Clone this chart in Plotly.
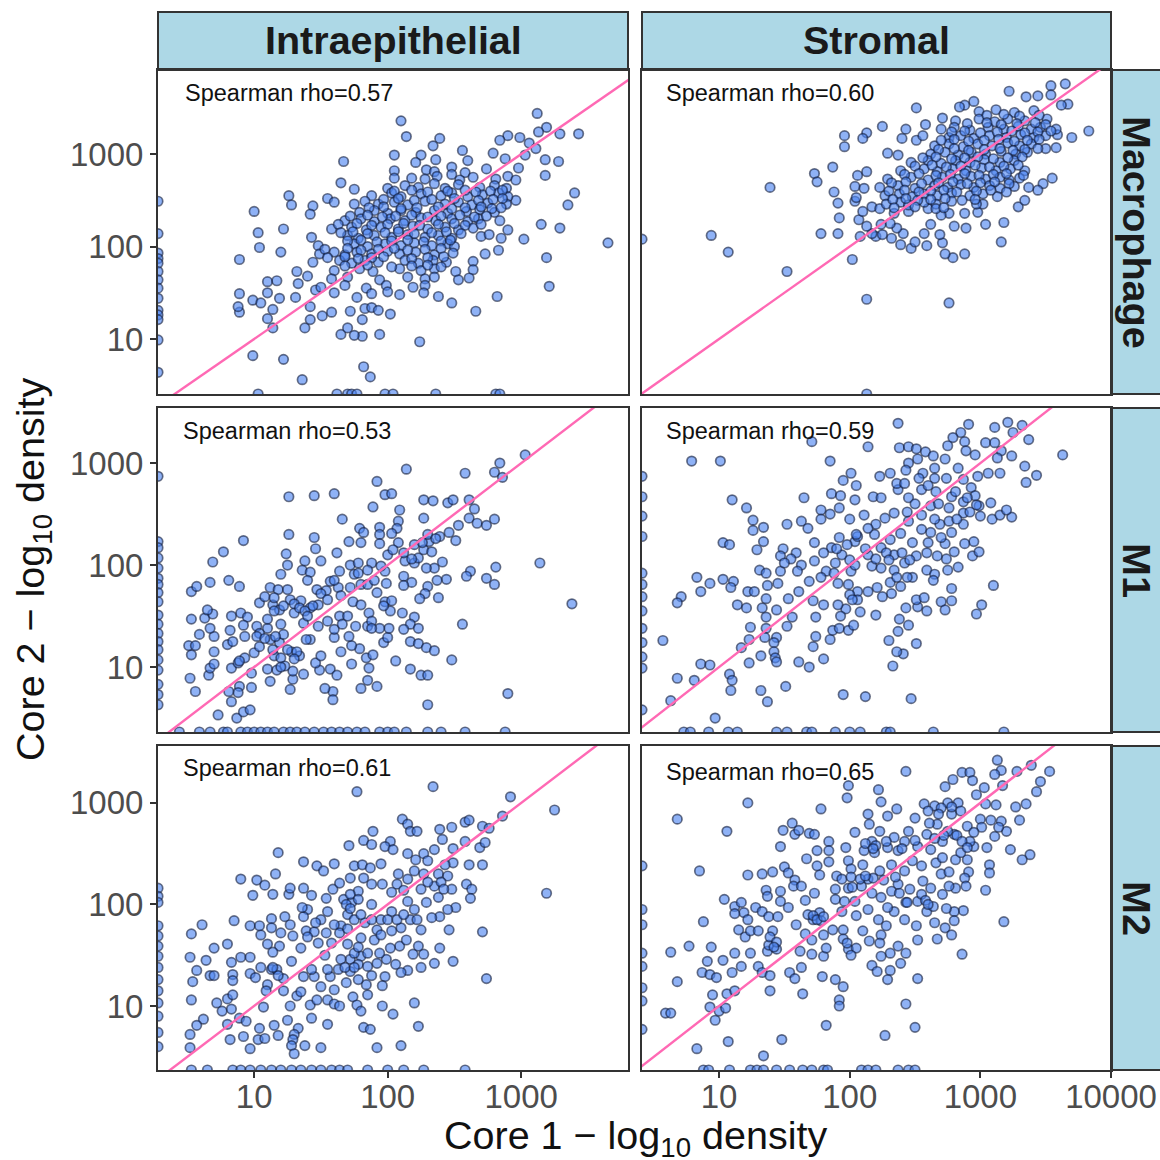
import plotly.graph_objects as go

# Every pair is (log10 Core 1 density, log10 Core 2 density).
ie_macrophage = [(3.12,3.44),(2.10,3.36),(2.14,3.19),(2.39,3.17),(2.34,3.09),(3.19,3.29),(3.29,3.22),(3.43,3.22),(2.90,3.20),(2.99,3.18),(2.84,3.15),(3.13,3.24),(3.06,3.12),(3.11,3.06),(2.79,3.01),(2.56,3.04),(2.05,2.99),(1.67,2.92),(2.25,2.99),(2.21,2.91),(2.36,2.94),(2.60,2.93),(2.88,2.95),(3.03,2.99),(3.18,2.94),(3.28,2.92),(3.18,2.77),(2.98,2.85),(2.05,2.82),(2.05,2.74),(1.65,2.69),(1.75,2.62),(1.26,2.55),(1.28,2.45),(1.55,2.52),(1.60,2.48),(1.44,2.44),(1.42,2.35),(1.00,2.38),(1.22,2.19),(1.03,2.15),(1.04,1.99),(1.20,1.94),(0.89,1.86),(3.40,2.58),(3.35,2.45),(2.96,2.50),(3.15,2.24),(3.29,2.20),(3.65,2.04),(3.02,2.08),(3.19,1.88),(3.21,1.57),(2.82,1.46),(2.83,1.96),(2.85,2.09),(2.66,1.30),(2.48,1.39),(2.38,1.46),(2.24,0.97),(1.94,1.05),(1.81,1.03),(1.75,1.04),(1.65,1.05),(1.70,1.12),(1.38,1.12),(1.14,1.12),(0.99,0.82),(1.22,0.78),(1.36,0.56),(1.82,0.70),(1.87,0.59),
(0.89,1.49),(0.89,1.29),(0.88,1.35),(0.99,1.42),(1.05,1.39),(1.14,1.32),(1.10,1.22),(1.10,1.50),(1.10,1.62),(1.17,1.63),(1.19,1.44),(1.31,1.45),(1.33,1.60),(1.32,1.73),(1.40,1.68),(1.46,1.53),(1.42,1.35),(1.42,1.21),(1.51,1.25),(1.58,1.29),(1.60,1.50),(1.72,1.30),(1.81,1.21),(1.83,1.33),(1.88,1.34),(1.93,1.31),(2.02,1.27),(1.77,1.45),
(2.29,2.83),(2.35,2.81),(2.48,2.86),(2.58,2.80),(2.74,2.84),(2.18,2.74),(2.28,2.73),(2.37,2.76),(2.48,2.78),(2.54,2.72),(2.64,2.75),(2.81,2.73),(2.90,2.76),(2.96,2.72),(2.00,2.63),(2.13,2.66),(2.23,2.64),(2.35,2.68),(2.43,2.63),(2.53,2.67),(2.69,2.64),(2.80,2.66),(2.89,2.63),(1.88,2.55),(2.03,2.58),(2.10,2.54),(2.25,2.57),(2.40,2.55),(2.48,2.58),(2.60,2.54),(2.71,2.56),(2.83,2.58),(2.90,2.54),(1.75,2.46),(1.83,2.49),(1.93,2.46),(2.05,2.48),(2.15,2.45),(2.28,2.49),(2.43,2.46),(2.53,2.48),(2.63,2.45),(2.75,2.47),(2.89,2.46),(1.79,2.37),(1.90,2.39),(2.00,2.36),(2.10,2.39),(2.21,2.37),(2.35,2.39),(2.45,2.36),(2.59,2.38),(2.69,2.40),(2.80,2.37),(1.68,2.28),(1.80,2.30),(1.90,2.27),(2.02,2.30),(2.13,2.28),(2.25,2.31),(2.36,2.28),(2.48,2.30),(2.60,2.27),(2.68,2.30),(2.84,2.28),(1.58,2.19),(1.73,2.21),(1.84,2.18),(1.95,2.21),(2.08,2.19),(2.19,2.22),(2.30,2.19),(2.43,2.21),(2.53,2.18),(2.64,2.20),(2.90,2.18),(1.43,2.10),(1.70,2.12),(1.78,2.09),(1.90,2.12),(2.03,2.10),(2.15,2.13),(2.28,2.10),(2.38,2.12),(2.48,2.09),(2.70,2.11),(2.76,2.13),(1.48,2.01),(1.75,2.03),(1.85,2.00),(1.98,2.03),(2.10,2.01),(2.20,2.04),(2.33,2.01),(2.45,2.03),(2.50,2.00),(1.49,1.92),(1.60,1.94),(1.68,1.91),(1.77,1.94),(1.88,1.92),(2.00,1.95),(2.09,1.92),(2.21,1.94),(2.35,1.91),(2.49,1.93),(2.73,1.92),(1.44,1.83),(1.64,1.85),(1.73,1.82),(1.83,1.85),(1.93,1.83),(2.13,1.85),(2.23,1.82),(2.34,1.85),(2.44,1.83),(2.64,1.84),(1.60,1.74),(1.79,1.76),(1.89,1.73),(2.09,1.76),(2.25,1.74),(2.35,1.76),(2.51,1.73),(2.64,1.75),(1.58,1.65),(1.70,1.67),(1.94,1.64),(2.15,1.67),(2.28,1.65),(2.35,1.67),(2.53,1.64),(2.61,1.66),(1.50,1.56),(1.68,1.58),(1.84,1.55),(1.99,1.58),(2.19,1.56),(2.28,1.58),(1.88,1.49),(2.00,1.51),(2.09,1.48),(2.27,1.50),
(2.05,2.60),(2.18,2.61),(2.30,2.59),(2.45,2.60),(2.58,2.61),(2.66,2.59),(2.77,2.60),(2.86,2.61),(1.97,2.51),(2.08,2.52),(2.20,2.50),(2.33,2.51),(2.50,2.52),(2.68,2.50),(2.79,2.51),(2.86,2.52),(1.86,2.42),(1.97,2.43),(2.10,2.41),(2.22,2.42),(2.38,2.43),(2.48,2.41),(2.58,2.42),(2.70,2.43),(2.78,2.41),(2.85,2.42),(1.72,2.33),(1.85,2.34),(1.96,2.32),(2.06,2.33),(2.18,2.34),(2.30,2.32),(2.40,2.33),(2.54,2.34),(2.65,2.32),(2.74,2.33),(1.63,2.24),(1.77,2.25),(1.88,2.23),(2.00,2.24),(2.12,2.25),(2.24,2.23),(2.38,2.24),(2.50,2.25),(2.58,2.23),(2.70,2.24),(1.65,2.15),(1.74,2.16),(1.85,2.14),(1.98,2.15),(2.08,2.16),(2.20,2.14),(2.33,2.15),(2.44,2.16),(2.55,2.14),(1.70,2.06),(1.80,2.07),(1.92,2.05),(2.03,2.06),(2.15,2.07),(2.27,2.05),(2.40,2.06),(2.47,2.07),(1.53,1.97),(1.70,1.98),(1.80,1.96),(1.93,1.97),(2.05,1.98),(2.15,1.96),(2.28,1.97),(2.40,1.98),(1.55,1.88),(1.68,1.89),(1.78,1.87),(1.88,1.88),(1.97,1.89),(2.18,1.87),(2.30,1.88),(2.42,1.89),(1.68,1.79),(1.85,1.80),(2.03,1.78),(2.18,1.79),(2.30,1.80),(2.40,1.78)]
ie_macrophage_left_y = [2.49,2.14,1.93,1.87,1.82,1.73,1.64,1.55,1.44,1.31,1.26,1.21,0.99,0.64]
ie_macrophage_bottom_x = [1.03,1.62,1.70,1.73,1.77,1.98,2.04,2.36,2.81,2.84]

st_macrophage = [(3.83,3.25),(3.70,3.18),(3.65,3.76),(3.54,3.74),(3.22,3.68),(3.35,3.62),(3.44,3.63),(3.67,3.54),(3.62,3.53),(3.54,3.64),(2.95,3.57),(2.88,3.53),(2.84,3.51),(2.51,3.50),(2.71,3.39),(2.25,3.30),(2.43,3.27),(2.58,3.32),(2.13,3.23),(2.10,3.17),(1.96,3.20),(1.96,3.08),(2.40,3.17),(2.51,3.15),(2.56,3.20),(2.29,3.01),(2.37,2.99),(1.87,2.86),(1.73,2.79),(1.75,2.70),(1.39,2.64),(2.06,2.77),(2.13,2.81),(2.04,2.65),(2.11,2.63),(1.88,2.59),(1.91,2.47),(2.04,2.49),(2.05,2.53),(1.92,2.31),(2.07,2.29),(2.10,2.38),(2.17,2.43),(1.78,2.14),(1.91,2.14),(2.08,2.11),(0.94,2.12),(1.07,1.94),(1.52,1.73),(2.02,1.86),(2.13,1.43),(2.76,1.39),(3.16,2.05),(3.18,2.26),(3.04,2.24),(2.88,1.92),(2.79,1.88),(2.73,1.92),(2.59,2.01),(2.47,1.98),(2.39,2.02),(2.50,2.05),(2.71,2.04),(2.32,2.09),(2.20,2.11),(2.17,2.14),(2.25,2.13),(2.41,2.14),(2.57,2.14),(2.69,2.13),(2.89,2.20),(2.80,2.22),(2.62,2.24),(2.36,2.20),(2.31,2.25),(2.24,2.24),(2.13,2.22),(3.29,2.43),(3.34,2.50),(2.98,2.37),(3.02,2.46),(2.88,2.36),(2.76,2.36),(2.70,2.34),(2.60,2.41),(2.45,2.38),(2.34,2.36),(2.23,2.41),(3.55,2.74),(3.48,2.68),(3.44,2.61),(3.58,3.07),(3.50,3.06),(3.59,3.21),
(2.99,3.46),(3.12,3.48),(3.26,3.45),(3.41,3.47),(2.81,3.36),(2.99,3.38),(3.11,3.35),(3.21,3.38),(3.34,3.36),(3.51,3.38),(2.70,3.27),(2.80,3.29),(2.92,3.26),(3.06,3.29),(3.18,3.27),(3.29,3.30),(3.39,3.27),(3.46,3.29),(3.58,3.27),(2.76,3.18),(2.85,3.20),(2.95,3.17),(3.07,3.20),(3.20,3.18),(3.31,3.21),(3.41,3.18),(3.50,3.20),(2.65,3.09),(2.76,3.11),(2.87,3.08),(2.98,3.11),(3.09,3.09),(3.21,3.12),(3.30,3.09),(3.39,3.11),(2.62,3.00),(2.73,3.02),(2.83,2.99),(2.93,3.02),(3.04,3.00),(3.16,3.03),(3.27,3.00),(3.36,3.02),(2.47,2.91),(2.60,2.93),(2.70,2.90),(2.81,2.93),(2.92,2.91),(3.03,2.94),(3.15,2.91),(3.26,2.93),(2.39,2.82),(2.57,2.84),(2.67,2.81),(2.79,2.84),(2.89,2.82),(3.01,2.85),(3.12,2.82),(3.23,2.84),(3.34,2.82),(2.29,2.73),(2.47,2.75),(2.60,2.72),(2.71,2.75),(2.83,2.73),(2.93,2.76),(3.04,2.73),(3.15,2.75),(3.22,2.72),(3.30,2.74),(2.23,2.64),(2.37,2.66),(2.50,2.63),(2.65,2.66),(2.75,2.64),(2.85,2.67),(2.95,2.64),(3.07,2.66),(3.15,2.63),(3.26,2.65),(3.37,2.64),(2.27,2.55),(2.38,2.57),(2.48,2.54),(2.57,2.57),(2.67,2.55),(2.78,2.58),(2.92,2.55),(3.02,2.57),(3.13,2.54),(2.28,2.46),(2.39,2.48),(2.45,2.45),(2.57,2.48),(2.66,2.46),(2.78,2.49),(2.97,2.46),
(3.05,3.42),(3.18,3.43),(3.30,3.41),(3.45,3.42),(2.90,3.33),(3.05,3.34),(3.16,3.32),(3.28,3.33),(3.42,3.34),(3.50,3.32),(2.78,3.24),(2.88,3.25),(3.00,3.23),(3.13,3.24),(3.24,3.25),(3.34,3.23),(3.44,3.24),(3.54,3.25),(2.70,3.15),(2.80,3.16),(2.91,3.14),(3.03,3.15),(3.14,3.16),(3.26,3.14),(3.36,3.15),(3.45,3.16),(2.68,3.05),(2.80,3.06),(2.91,3.04),(3.03,3.05),(3.15,3.06),(3.25,3.04),(3.34,3.05),(3.44,3.06),(2.56,2.96),(2.66,2.97),(2.78,2.95),(2.88,2.96),(2.98,2.97),(3.10,2.95),(3.21,2.96),(3.32,2.97),(2.50,2.87),(2.63,2.88),(2.74,2.86),(2.85,2.87),(2.96,2.88),(3.07,2.86),(3.18,2.87),(3.29,2.88),(2.42,2.78),(2.53,2.79),(2.66,2.77),(2.77,2.78),(2.88,2.79),(2.99,2.77),(3.10,2.78),(3.20,2.79),(3.33,2.77),(2.32,2.69),(2.43,2.70),(2.55,2.68),(2.68,2.69),(2.79,2.70),(2.90,2.68),(3.00,2.69),(3.11,2.70),(3.22,2.68),(2.30,2.60),(2.42,2.61),(2.53,2.59),(2.62,2.60),(2.72,2.61),(2.82,2.59),(2.97,2.60),(3.08,2.61),(3.20,2.59),(2.33,2.51),(2.43,2.52),(2.52,2.50),(2.62,2.51),(2.73,2.52),(2.86,2.50),(2.96,2.51),(2.34,2.42),(2.50,2.43),(2.66,2.41),(2.72,2.42)]
st_macrophage_left_y = [2.08]
st_macrophage_bottom_x = [2.13]

ie_m1 = [(3.03,3.08),(2.84,3.00),(2.80,2.91),(2.86,2.86),(2.14,2.94),(2.58,2.90),(1.92,2.82),(1.98,2.69),(2.03,2.70),(1.60,2.70),(1.45,2.68),(1.26,2.67),(1.89,2.57),(2.09,2.54),(2.27,2.64),(2.34,2.63),(2.45,2.61),(2.49,2.64),(2.61,2.64),(2.65,2.55),(2.61,2.46),(2.67,2.41),(2.74,2.39),(2.80,2.45),(2.53,2.39),(2.46,2.32),(2.51,2.24),(2.27,2.46),(1.66,2.45),(2.08,2.43),(2.07,2.36),(1.94,2.37),(1.79,2.36),(1.82,2.32),(1.26,2.30),(1.45,2.27),(0.92,2.24),(0.77,2.13),(0.69,2.03),(1.24,2.11),(1.46,2.16),(1.62,2.12),(1.71,2.23),(1.80,2.22),(1.94,2.30),(2.03,2.31),(2.08,2.22),(1.94,2.21),(3.14,2.02),(2.81,1.98),(2.74,1.87),(2.80,1.81),(2.62,1.94),(2.59,1.89),(2.44,1.86),(2.37,1.85),(2.41,2.03),(2.35,1.97),(2.29,1.97),(2.18,1.83),(2.12,1.89),(2.12,1.80),(2.30,1.79),(2.28,1.72),(2.24,1.67),(2.38,1.68),(3.38,1.62),(2.56,1.42),(2.48,1.07),(2.11,1.53),(2.20,1.49),(2.17,1.42),(2.23,1.38),(2.12,1.37),(2.17,1.25),(2.23,1.23),(2.29,1.19),(2.35,1.16),(2.06,1.06),(2.17,0.98),(2.25,0.92),(2.30,0.92),(2.30,0.63),(2.90,0.74),(1.92,0.81),(1.80,0.79),(1.85,0.87),(1.59,0.76),(1.59,0.68),(1.53,0.79),(1.27,0.78),(1.29,0.88),(1.29,0.96),(1.37,0.93),(1.49,0.97),(1.57,0.98),(1.62,0.92),(1.73,1.03),(1.46,1.04),(1.50,1.11),(1.65,1.15),(1.79,1.18),(1.73,1.21),(1.84,1.09),(1.89,1.12),(1.86,0.99),(1.97,1.24),(2.00,1.29),(2.01,1.38),(1.94,1.38),(1.85,1.40),(1.76,1.40),(1.71,1.30),(1.60,1.29),(1.60,1.37),(1.42,1.27),(1.34,1.11),(1.28,1.15),(1.15,1.11),(1.20,1.09),(1.12,0.86),(0.98,0.80),(1.10,0.98),(1.17,0.97),(1.23,1.01),(0.98,0.94),(0.89,0.81),(0.88,0.75),(0.81,0.76),(0.83,0.66),(0.73,0.53),(0.87,0.50),(0.92,0.56),(0.97,0.58),(0.56,0.76),(0.52,0.89),(0.66,0.92),(0.67,0.99),(0.70,1.03),(0.83,0.99),(0.88,1.04),(0.93,1.09),(1.00,1.14),(1.04,1.20),(0.70,1.15),(0.53,1.12),(0.51,1.21),(0.56,1.21),(0.59,1.32),(0.70,1.30),(0.67,1.38),(0.53,1.47),(0.63,1.48),(0.69,1.52),(0.65,1.56),(0.83,1.50),(0.90,1.53),(0.95,1.49),(0.92,1.41),(0.82,1.36),(0.80,1.22),(0.84,1.25),(0.93,1.30),(1.02,1.40),(1.10,1.38),(1.04,1.33),(1.12,1.27),(1.19,1.24),(1.22,1.32),(1.10,1.47),(1.20,1.42),(1.37,1.43),(0.53,1.74),(0.57,1.79),(0.67,1.83),(0.81,1.85),(0.89,1.79),(1.04,1.63),(1.08,1.69),(1.12,1.78),(1.18,1.76),(1.25,1.76),(1.20,1.91),(1.25,2.00),(1.38,2.04),(1.36,1.95),(1.42,1.93),(1.40,1.85),(1.50,2.04),(1.64,1.94),(1.57,1.84),(1.47,1.76),(1.54,1.75),(1.63,1.78),(1.72,2.00),(1.78,2.02),(1.75,1.91),(1.80,1.81),(1.88,2.02),(1.98,1.94),(1.99,1.82),(1.85,1.81),(2.00,2.10),(2.13,2.04),(2.20,2.02),(2.23,2.07),(2.27,2.15),(2.33,2.13),(2.31,2.23),(2.30,2.30),(2.39,2.28),(2.20,2.20),(1.14,1.61),(1.19,1.56),(1.27,1.66),(1.30,1.53),(1.35,1.65),(1.42,1.58),(1.48,1.61),(1.55,1.45),(1.64,1.50),(1.70,1.50),(1.74,1.64),(1.80,1.61),(1.86,1.53),(1.92,1.73),(1.98,1.64),(2.02,1.55),(1.39,1.27),
(1.15,1.68),(1.22,1.60),(1.30,1.62),(1.34,1.58),(1.38,1.55),(1.44,1.60),(1.40,1.50),(1.15,1.55),(1.50,1.72),(1.55,1.66),(1.60,1.85),(1.65,1.70),(1.72,1.78),(1.78,1.92),(1.85,1.95),(1.95,1.99),(1.90,1.85),(2.03,1.65),(1.97,1.60),(2.04,2.15),(2.12,2.12),(2.18,2.06),(2.26,2.22),(2.36,2.26),(1.02,1.30),(1.08,1.28),(1.16,1.30),(1.14,1.17),(1.25,1.17),(1.32,1.15),(1.20,1.00),(1.30,1.08),(0.89,1.06),(1.48,1.40),(1.66,1.42),(1.88,1.45),(1.88,1.38)]
ie_m1_left_y = [2.87,2.23,2.17,2.07,1.97,1.87,1.81,1.73,1.64,1.51,1.42,1.33,1.25,1.17,1.07,0.97,0.83,0.73,0.63]
ie_m1_bottom_x = [0.44,0.59,0.67,0.77,0.80,0.90,0.95,1.00,1.05,1.10,1.15,1.22,1.27,1.32,1.38,1.45,1.52,1.58,1.64,1.70,1.77,1.83,1.94,2.00,2.05,2.14,2.30,2.40,2.58,2.88]

st_m1 = [(2.37,3.39),(2.91,3.38),(3.11,3.35),(3.21,3.40),(3.32,3.37),(3.25,3.30),(3.37,3.23),(3.63,3.08),(1.71,3.21),(2.14,3.16),(0.79,3.02),(1.01,3.02),(1.85,3.02),(2.85,3.30),(2.79,3.25),(2.88,3.21),(2.75,3.17),(3.04,3.20),(3.11,3.20),(3.16,3.12),(3.24,3.07),(3.13,3.05),(3.34,2.97),(3.43,2.88),(3.35,2.81),(3.15,2.90),(3.06,2.90),(2.98,2.87),(2.89,3.12),(2.96,3.08),(2.38,3.15),(2.45,3.16),(2.51,3.14),(2.58,3.11),(2.64,3.07),(2.52,3.04),(2.45,3.00),(2.73,3.04),(2.65,2.95),(2.56,2.90),(2.43,2.93),(2.31,2.90),(2.23,2.87),(2.01,2.90),(1.95,2.83),(2.05,2.78),(1.86,2.70),(1.93,2.68),(1.65,2.66),(1.10,2.64),(1.21,2.56),(1.26,2.44),(1.34,2.37),(1.26,2.34),(1.52,2.40),(1.63,2.43),(1.68,2.36),(1.78,2.54),(1.78,2.45),(1.85,2.50),(1.03,2.22),(1.08,2.20),(1.34,2.23),(1.29,2.15),(1.49,2.16),(1.59,2.12),(1.47,2.09),(0.83,1.88),(0.93,1.82),(0.86,1.74),(1.03,1.86),(1.11,1.84),(1.09,1.78),(0.71,1.69),(0.68,1.63),(0.57,1.26),(1.14,1.61),(1.21,1.58),(1.22,1.74),(1.27,1.74),(1.31,1.95),(1.36,1.92),(1.47,1.94),(1.45,1.82),(1.37,1.80),(1.36,1.67),(1.33,1.58),(1.44,1.56),(1.36,1.49),(1.53,1.67),(1.61,1.74),(1.56,1.49),(1.52,1.40),(1.74,1.49),(1.80,1.61),(1.72,1.65),(1.24,1.39),(1.36,1.38),(1.23,1.27),(1.35,1.29),(1.44,1.29),(1.17,1.19),(1.42,1.24),(1.42,1.15),(1.43,1.09),(1.44,1.05),(1.32,1.11),(1.23,1.04),(0.86,1.03),(0.93,1.02),(0.68,0.89),(0.81,0.87),(1.08,0.93),(1.10,0.87),(1.09,0.77),(0.63,0.67),(1.32,0.77),(1.37,0.66),(1.51,0.81),(0.97,0.50),(1.61,1.05),(1.69,1.00),(1.80,1.08),(1.72,1.20),(1.74,1.30),(1.85,1.27),(1.87,1.36),(1.92,1.38),(1.99,1.36),(2.03,1.41),(1.95,0.73),(2.12,0.71),(2.47,0.69),(2.33,1.01),(2.41,1.13),(2.36,1.15),(2.51,1.23),(2.30,1.26),(2.37,1.35),(2.45,1.41),(2.38,1.47),(2.20,1.51),(2.08,1.54),(1.97,1.57),(1.93,1.50),(1.91,1.61),(2.43,1.58),(2.52,1.59),(2.59,1.55),(2.51,1.66),(2.57,1.68),(2.70,1.64),(2.78,1.65),(2.73,1.56),(2.78,1.77),(2.97,1.52),(3.01,1.61),(3.10,1.80),(2.83,1.98),(2.75,1.95),(2.59,1.95),(2.65,1.91),(2.64,1.85),(2.48,1.88),(2.31,1.83),(2.39,1.79),(2.32,1.72),(2.25,1.69),(2.21,1.78),(2.14,1.74),(2.06,1.74),(2.00,1.71),(1.99,1.81),(1.91,1.82),(1.69,1.84),(1.82,1.94),(2.01,1.94),(2.17,1.99),(2.34,1.95),(2.24,1.97),(2.94,2.09),(2.99,2.13),(2.95,2.23),(2.88,2.21),(2.80,2.13),(2.74,2.06),(2.67,2.09),(2.73,2.21),(2.60,2.22),(2.59,2.12),(2.51,2.09),(2.42,2.02),(2.34,2.10),(2.24,2.17),(2.14,2.10),(2.04,2.23),(1.94,2.10),(1.86,2.17),(1.73,2.22),(1.73,2.04),(1.63,2.00),(1.89,2.02),(2.04,2.00),(1.92,2.27),(2.06,2.28),(2.19,2.30),(2.31,2.25),(2.39,2.31),(2.48,2.22),(2.78,2.32),(2.69,2.40),(2.87,2.40),(3.09,2.45),(3.24,2.47),(3.15,2.49),(3.20,2.54),(3.08,2.61),(3.00,2.48),(2.99,2.58),(2.87,2.51),(2.76,2.43),(2.65,2.45),(2.55,2.49),(2.45,2.43),(2.34,2.51),(2.27,2.46),(2.11,2.49),(2.00,2.45),(1.92,2.56),(2.04,2.64),(2.18,2.67),(2.24,2.66),(2.37,2.74),(2.45,2.66),(2.55,2.74),(2.66,2.72),(2.78,2.67),(2.87,2.62),(2.97,2.59),(2.93,2.76),(2.87,2.84),(2.83,2.95),(2.65,2.85),(2.74,2.85),(2.53,2.85),(2.36,2.80),
(2.55,2.35),(2.62,2.32),(2.70,2.27),(2.82,2.45),(2.92,2.52),(2.96,2.68),(2.90,2.66),(2.62,2.58),(2.50,2.60),(2.68,2.60),(2.76,2.56),(2.81,2.72),(2.60,2.78),(2.42,2.80),(2.44,2.52),(2.20,2.40),(2.14,2.36),(2.05,2.30),(1.98,2.20),(1.90,2.16),(1.80,2.12),(2.12,2.16),(2.28,2.12),(2.40,2.12),(2.46,2.05),(2.30,2.05),(2.20,2.06),(2.00,2.05),(1.88,1.92),(1.78,1.88),(1.60,1.94),(1.55,2.06),(1.50,2.02),(2.36,1.88),(2.44,1.88),(2.06,1.66),(2.02,1.66)]
st_m1_left_y = [2.87,2.67,2.48,2.28,1.92,1.81,1.69,1.55,1.38,1.24,1.10,0.99,0.58]
st_m1_bottom_x = [0.73,0.78,0.92,1.07,1.14,1.44,1.52,1.67,1.71,1.89,2.00,2.08,2.28,2.31,2.64,3.18]

ie_m2 = [(1.77,3.11),(2.34,3.16),(2.92,3.06),(3.25,2.93),(2.86,2.87),(2.11,2.84),(2.15,2.79),(2.17,2.72),(2.22,2.72),(2.39,2.74),(2.48,2.76),(2.58,2.81),(2.61,2.83),(2.71,2.77),(2.76,2.75),(1.89,2.72),(1.82,2.63),(1.88,2.59),(1.71,2.58),(1.18,2.51),(1.37,2.42),(1.47,2.38),(1.60,2.40),(1.52,2.33),(1.16,2.30),(0.90,2.25),(1.02,2.24),(1.08,2.19),(1.14,2.10),(0.99,2.09),(1.26,2.10),(1.27,2.16),(1.37,2.16),(1.43,2.09),(1.54,2.06),(1.59,2.15),(1.64,2.21),(1.72,2.26),(1.75,2.38),(1.81,2.39),(1.95,2.40),(1.87,2.36),(2.02,2.62),(1.98,2.57),(2.04,2.54),(2.15,2.50),(2.21,2.44),(2.27,2.50),(2.35,2.54),(2.41,2.64),(2.49,2.55),(2.58,2.62),(2.69,2.56),(2.73,2.61),(2.61,2.39),(2.71,2.39),(2.49,2.41),(2.43,2.39),(2.30,2.43),(2.20,2.33),(2.08,2.30),(2.27,2.30),(2.38,2.30),(2.45,2.28),(2.59,2.20),(2.63,2.15),(2.62,2.06),(2.48,2.15),(2.35,2.18),(2.15,2.25),(2.07,2.20),(1.96,2.20),(1.88,2.20),(1.82,2.26),(1.78,2.13),(1.67,2.05),(1.73,2.02),(1.88,2.00),(2.03,2.12),(2.15,2.03),(2.25,2.15),(2.38,2.07),(2.29,2.02),(2.51,1.97),(2.45,1.95),(2.39,1.88),(3.19,2.11),(2.46,1.75),(2.71,1.73),(2.74,1.27),(2.49,1.44),(2.35,1.42),(2.39,1.57),(2.27,1.51),(2.25,1.38),(2.15,1.35),(2.10,1.33),(2.06,1.41),(1.99,1.46),(1.94,1.52),(2.09,1.59),(2.19,1.51),(2.23,1.59),(2.14,1.65),(2.25,1.75),(2.33,1.87),(2.20,1.95),(2.17,1.85),(2.10,1.77),(2.03,1.74),(2.03,1.93),(1.95,1.85),(1.92,1.75),(1.83,1.82),(1.80,1.67),(1.90,1.65),(2.02,1.57),(1.69,2.00),(1.65,1.79),(1.70,1.90),(1.54,1.72),(1.50,1.85),(1.55,1.93),(1.40,1.95),(1.37,1.88),(1.36,1.97),(1.23,1.88),(1.13,1.86),(1.27,1.80),(1.39,1.74),(1.48,1.62),(1.58,1.62),(1.64,1.72),(1.70,1.61),(1.80,1.49),(1.72,1.46),(1.78,1.41),(1.85,1.39),(1.98,1.29),(1.96,1.20),(1.84,1.21),(1.78,1.26),(1.69,1.23),(1.72,1.34),(1.63,1.36),(1.57,1.29),(1.50,1.19),(1.60,1.16),(1.37,1.29),(1.45,1.29),(1.43,1.36),(1.28,1.44),(1.35,1.57),(1.19,1.59),(1.14,1.53),(1.10,1.61),(1.05,1.70),(1.13,1.77),(1.20,1.72),(1.29,1.69),(0.97,1.79),(1.04,1.79),(0.85,1.84),(0.61,1.80),(0.53,1.71),(0.70,1.57),(0.80,1.61),(0.52,1.48),(0.64,1.45),(0.83,1.43),(0.90,1.48),(0.97,1.48),(0.57,1.35),(0.54,1.24),(0.67,1.30),(0.70,1.30),(0.84,1.31),(0.84,1.25),(0.97,1.32),(1.01,1.28),(1.05,1.38),(1.13,1.36),(1.22,1.27),(1.17,1.36),(1.10,1.21),(1.09,1.15),(1.22,1.15),(1.32,1.10),(1.35,1.14),(0.53,1.06),(0.72,1.03),(0.80,1.07),(0.84,1.11),(0.76,0.95),(0.83,0.97),(0.62,0.87),(0.57,0.81),(0.52,0.72),(0.52,0.59),(0.82,0.67),(0.80,0.82),(0.89,0.88),(0.94,0.85),(0.92,0.70),(0.97,0.58),(1.04,0.78),(1.03,0.67),(1.08,0.68),(1.15,0.81),(1.18,0.71),(1.07,0.99),(1.27,1.00),(1.25,0.86),(1.33,0.78),(1.30,0.72),(1.29,0.67),(1.28,0.61),(1.30,0.53),(1.38,0.61),(1.50,0.59),(1.43,0.88),(1.55,0.82),(1.42,1.01),(1.47,1.06),(1.55,1.06),(1.60,1.02),(1.64,1.00),(1.74,1.09),(1.85,1.11),(1.77,1.01),(1.80,0.95),(1.96,1.00),(2.04,0.92),(2.20,1.03),(2.23,0.80),(1.82,0.79),(1.87,0.77),(1.92,0.59),(2.10,0.61),
(1.65,1.46),(1.75,1.52),(1.78,1.58),(1.68,1.38),(1.75,1.38),(1.85,1.52),(1.88,1.30),(1.92,1.42),(1.53,1.50),(1.55,1.36),(1.60,1.80),(1.70,1.76),(1.75,1.85),(1.80,1.90),(1.88,1.85),(1.95,1.70),(2.00,1.85),(2.07,1.85),(2.12,1.90),(2.22,1.85),(1.45,1.73),(1.40,1.68),(1.46,1.82),(1.72,2.10),(1.78,2.05),(1.72,1.96),(2.40,2.22),(2.42,2.15),(2.30,2.22),(2.12,2.14),(1.18,1.30),(1.14,1.38)]
ie_m2_left_y = [2.16,2.08,2.02,1.79,1.69,1.59,1.49,1.38,1.26,1.15,1.03,0.90,0.74,0.60]
ie_m2_bottom_x = [0.53,0.65,0.84,0.90,0.97,1.05,1.13,1.20,1.28,1.35,1.43,1.50,1.58,1.64,1.70,1.85,2.00,2.12,2.27,2.58]

st_m2 = [(3.13,3.42),(3.16,3.32),(3.39,3.37),(3.53,3.31),(3.28,3.31),(3.11,3.28),(2.86,3.30),(2.92,3.30),(2.43,3.31),(3.46,3.21),(3.43,3.11),(3.35,2.99),(3.27,2.96),(3.30,2.83),(3.17,3.17),(2.79,3.23),(2.73,3.16),(2.94,3.22),(3.03,3.15),(2.97,3.08),(2.22,3.13),(1.99,3.17),(1.98,3.05),(2.24,3.01),(1.22,3.00),(1.78,2.94),(0.68,2.84),(1.06,2.72),(0.85,2.33),(2.14,2.89),(2.36,2.94),(2.29,2.87),(2.15,2.79),(2.23,2.72),(2.04,2.71),(2.50,2.85),(2.57,2.99),(2.65,2.97),(2.75,3.00),(2.83,3.00),(3.04,2.99),(3.12,2.98),(3.16,2.82),(3.08,2.83),(3.00,2.84),(3.20,2.72),(3.11,2.67),(3.14,2.76),(3.01,2.76),(3.23,2.54),(3.38,2.49),(3.32,2.44),(3.05,2.56),(3.07,2.39),(3.07,2.31),(3.04,2.14),(3.18,1.83),(2.86,1.51),(2.91,2.32),(2.88,2.26),(2.89,2.18),(2.81,2.16),(2.76,2.18),(2.71,2.10),(2.87,1.94),(2.80,1.93),(2.74,1.96),(2.65,1.82),(2.80,1.84),(2.73,1.77),(2.78,1.70),(2.67,1.66),(2.52,1.65),(2.51,1.79),(2.42,1.85),(2.59,1.93),(2.64,1.98),(2.52,2.03),(2.43,2.02),(2.34,1.93),(2.29,1.97),(2.22,1.85),(2.28,1.79),(2.10,1.74),(2.15,1.64),(2.24,1.70),(2.23,1.62),(2.37,1.59),(2.43,1.52),(2.31,1.52),(2.24,1.49),(2.17,1.40),(2.21,1.34),(2.31,1.35),(2.39,1.42),(2.29,1.26),(2.52,1.27),(2.43,1.02),(2.50,0.79),(2.27,0.71),(1.92,1.06),(1.92,1.00),(1.82,0.81),(1.48,0.67),(1.34,0.51),(1.07,0.65),(0.83,0.58),(0.97,0.86),(1.00,0.95),(0.93,0.99),(1.05,0.98),(0.59,0.93),(0.63,0.93),(0.95,1.11),(1.06,1.12),(1.12,1.15),(0.68,1.24),(1.39,1.15),(1.64,1.12),(0.87,1.33),(0.93,1.31),(0.98,1.28),(1.10,1.33),(0.91,1.44),(1.03,1.45),(1.17,1.39),(1.30,1.39),(1.33,1.33),(1.39,1.30),(1.54,1.33),(1.63,1.38),(1.58,1.27),(1.79,1.29),(1.89,1.26),(1.95,1.19),(0.63,1.53),(0.77,1.59),(0.94,1.58),(1.12,1.52),(1.24,1.52),(1.37,1.54),(1.44,1.56),(1.38,1.60),(1.62,1.54),(1.71,1.51),(1.80,1.49),(1.82,1.57),(0.88,1.83),(1.04,2.05),(1.12,1.98),(1.17,2.02),(1.19,1.92),(1.12,1.91),(1.22,1.85),(1.15,1.75),(1.20,1.68),(1.24,1.74),(1.30,1.74),(1.28,1.97),(1.33,1.93),(1.38,1.88),(1.45,1.88),(1.41,1.74),(1.39,1.68),(1.59,1.80),(1.66,1.71),(1.71,1.65),(1.80,1.70),(1.87,1.75),(1.72,1.85),(1.68,1.90),(1.77,1.92),(1.78,1.84),(1.95,1.75),(1.95,1.66),(1.99,1.56),(2.05,1.57),(2.01,1.50),(1.22,2.29),(1.33,2.30),(1.41,2.32),(1.50,2.37),(1.53,2.31),(1.58,2.24),(1.36,2.14),(1.37,2.08),(1.47,2.13),(1.47,2.03),(1.53,1.97),(1.57,2.18),(1.63,2.18),(1.66,2.04),(1.73,2.11),(1.47,2.57),(1.49,2.73),(1.56,2.80),(1.58,2.69),(1.61,2.73),(1.69,2.70),(1.73,2.69),(1.67,2.45),(1.75,2.38),(1.77,2.29),(1.75,2.53),(1.84,2.62),(1.84,2.53),(1.84,2.42),(1.90,2.28),(1.94,2.25),(1.97,2.56),(1.99,2.43),(2.01,2.35),(2.01,2.27),(1.89,2.15),(1.89,2.05),(1.96,2.03),(1.99,2.16),(1.94,1.93),(2.05,1.89),(2.04,2.03),(2.09,2.18),(2.14,1.95),(2.17,2.11),(2.24,2.07),(2.32,2.13),(2.38,2.11),(2.37,2.20),(2.46,2.15),(2.55,2.10),(2.62,2.16),(2.56,2.23),(2.70,2.30),(2.76,2.32),(2.66,2.41),(2.55,2.38),(2.48,2.43),(2.42,2.33),(2.32,2.39),(2.23,2.33),(2.14,2.25),(2.10,2.39),(2.11,2.53),(2.19,2.51),(2.17,2.62),(2.29,2.56),(2.37,2.53),(2.42,2.62),(2.52,2.57),(2.62,2.54),(2.71,2.46),(2.81,2.44),(2.90,2.44),(2.85,2.51),(2.95,2.57),(2.80,2.69),(2.92,2.62),(2.71,2.62),(2.59,2.69),(2.45,2.72),(2.34,2.66),(2.67,2.79),(2.78,2.89),(2.61,2.80),(2.90,2.77),(2.95,2.71),
(2.60,2.92),(2.70,2.95),(2.78,2.96),(2.68,2.89),(2.85,2.92),(2.75,2.72),(2.82,2.68),(2.72,2.68),(2.86,2.62),(2.90,2.56),(2.65,2.65),(2.50,2.63),(2.28,2.62),(2.20,2.58),(2.12,2.60),(2.18,2.55),(2.40,2.55),(2.08,2.25),(2.02,2.17),(2.26,2.24),(2.35,2.27),(2.18,2.26),(2.12,2.28),(1.72,1.89),(1.75,1.85),(1.80,1.88),(2.44,2.02),(2.58,2.04),(2.60,2.00),(1.44,1.63),(1.42,1.58),(1.98,1.62)]
st_m2_left_y = [2.38,1.95,1.80,1.52,1.39,1.18,1.05,0.77]
st_m2_bottom_x = [0.88,0.92,1.08,1.24,1.29,1.34,1.44,1.54,1.64,1.71,1.80,1.83,2.09,2.14,2.20,2.37,2.45,2.50]

column_labels = ["Intraepithelial", "Stromal"]
row_labels = ["Macrophage", "M1", "M2"]
rho_labels = [["Spearman rho=0.57", "Spearman rho=0.60"],
              ["Spearman rho=0.53", "Spearman rho=0.59"],
              ["Spearman rho=0.61", "Spearman rho=0.65"]]
x_ticks = [[10, 100, 1000], [10, 100, 1000, 10000]]
y_ticks = [10, 100, 1000]
x_log_ranges = [[0.28, 3.80], [0.41, 4.00]]
y_log_ranges = [[0.405, 3.91], [0.363, 3.54], [0.37, 3.56]]
identity_line = [1, 100000]

panels = [[(ie_macrophage, ie_macrophage_left_y, ie_macrophage_bottom_x), (st_macrophage, st_macrophage_left_y, st_macrophage_bottom_x)],
          [(ie_m1, ie_m1_left_y, ie_m1_bottom_x), (st_m1, st_m1_left_y, st_m1_bottom_x)],
          [(ie_m2, ie_m2_left_y, ie_m2_bottom_x), (st_m2, st_m2_left_y, st_m2_bottom_x)]]

S = 1160.0
col_px = [(158, 628), (642, 1111)]
row_px = [(70, 394), (408, 732), (746, 1070)]
rho_px = [[(183, 93), (664, 93)], [(181, 431), (664, 431)], [(181, 768), (664, 772)]]
FONT = "Liberation Sans"
INK = "#333333"
TICK = "#4D4D4D"

fig = go.Figure()
layout = dict(width=1160, height=1160, margin=dict(l=0, r=0, t=0, b=0, autoexpand=False),
              paper_bgcolor="white", plot_bgcolor="white", showlegend=False,
              font=dict(family=FONT, color=TICK), shapes=[], annotations=[])

def px_x(p): return p / S
def px_y(p): return 1 - p / S

for r in range(3):
    for c in range(2):
        n = r * 2 + c + 1
        sfx = "" if n == 1 else str(n)
        xname, yname = "x" + sfx, "y" + sfx
        pts, left_y, bottom_x = panels[r][c]
        xlo = x_log_ranges[c][0]
        ylo = y_log_ranges[r][0]
        xs = [10 ** p[0] for p in pts] + [10 ** xlo] * len(left_y) + [10 ** v for v in bottom_x]
        ys = [10 ** p[1] for p in pts] + [10 ** v for v in left_y] + [10 ** ylo] * len(bottom_x)
        fig.add_trace(go.Scatter(x=xs, y=ys, mode="markers", xaxis=xname, yaxis=yname,
                                 marker=dict(size=9.5, color="rgba(75,130,240,0.62)",
                                             line=dict(color="rgba(15,25,55,0.6)", width=1.7)),
                                 hoverinfo="skip"))
        fig.add_trace(go.Scatter(x=identity_line, y=identity_line, mode="lines", xaxis=xname, yaxis=yname,
                                 line=dict(color="#FF69B4", width=2.4), hoverinfo="skip"))
        common = dict(type="log", showgrid=False, zeroline=False, showline=True, mirror=True,
                      linecolor=INK, linewidth=2, ticks="outside", ticklen=6, tickwidth=2, tickcolor=INK,
                      tickfont=dict(family=FONT, size=33, color=TICK))
        xax = dict(common, domain=[px_x(col_px[c][0]), px_x(col_px[c][1])], range=x_log_ranges[c],
                   anchor=yname, tickmode="array", tickvals=x_ticks[c], ticklabelstandoff=-10,
                   ticktext=[str(v) for v in x_ticks[c]], showticklabels=(r == 2))
        if r != 2:
            xax.update(ticks="")
        yax = dict(common, domain=[px_y(row_px[r][1]), px_y(row_px[r][0])], range=y_log_ranges[r],
                   anchor=xname, tickmode="array", tickvals=y_ticks,
                   ticktext=[str(v) for v in y_ticks], showticklabels=(c == 0))
        if c != 0:
            yax.update(ticks="")
        layout["xaxis" + sfx] = xax
        layout["yaxis" + sfx] = yax
        layout["annotations"].append(dict(text=rho_labels[r][c], xref="paper", yref="paper",
                                          x=px_x(rho_px[r][c][0]), y=px_y(rho_px[r][c][1]),
                                          xanchor="left", yanchor="middle", showarrow=False,
                                          font=dict(family=FONT, size=23.5, color="#111111")))

for c, label in enumerate(column_labels):
    layout["shapes"].append(dict(type="rect", xref="paper", yref="paper", layer="below",
                                 x0=px_x(col_px[c][0]), x1=px_x(col_px[c][1]), y0=px_y(70), y1=px_y(12),
                                 fillcolor="#ADD8E6", line=dict(color=INK, width=2)))
    layout["annotations"].append(dict(text="<b>%s</b>" % label, xref="paper", yref="paper",
                                      x=px_x(sum(col_px[c]) / 2), y=px_y(40), showarrow=False,
                                      xanchor="center", yanchor="middle",
                                      font=dict(family=FONT, size=39.5, color="#1A1A1A")))
for r, label in enumerate(row_labels):
    layout["shapes"].append(dict(type="rect", xref="paper", yref="paper", layer="below",
                                 x0=px_x(1111), x1=px_x(1175), y0=px_y(row_px[r][1]), y1=px_y(row_px[r][0]),
                                 fillcolor="#ADD8E6", line=dict(color=INK, width=2)))
    layout["annotations"].append(dict(text="<b>%s</b>" % label, xref="paper", yref="paper",
                                      x=px_x(1137), y=px_y(sum(row_px[r]) / 2), showarrow=False,
                                      xanchor="center", yanchor="middle", textangle=90,
                                      font=dict(family=FONT, size=39.5, color="#1A1A1A")))

layout["annotations"].append(dict(text="Core 1 \u2212 log<sub>10</sub> density", xref="paper", yref="paper",
                                  x=px_x(635), y=px_y(1138), showarrow=False, xanchor="center", yanchor="middle",
                                  font=dict(family=FONT, size=39.5, color="#111111")))
layout["annotations"].append(dict(text="Core 2 \u2212 log<sub>10</sub> density", xref="paper", yref="paper",
                                  x=px_x(33), y=px_y(570), showarrow=False, xanchor="center", yanchor="middle", textangle=-90,
                                  font=dict(family=FONT, size=39.5, color="#111111")))

fig.update_layout(**layout)
fig.write_html("out.html", config={"displayModeBar": False},
               post_script="document.body.style.margin='0';document.documentElement.style.overflow='hidden';")
